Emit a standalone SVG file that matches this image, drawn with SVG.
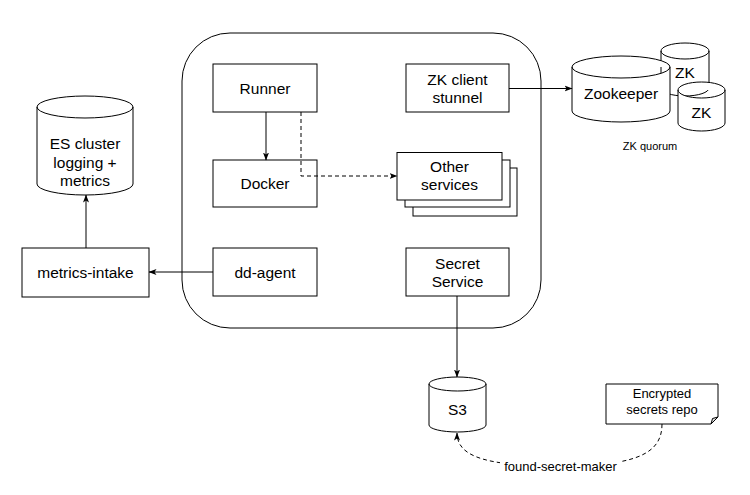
<svg xmlns="http://www.w3.org/2000/svg" width="750" height="495" viewBox="0 0 750 495">
<defs>
<style>
.s{fill:#fff;stroke:#000;stroke-width:1}
.t{font-family:"Liberation Sans",Arial,sans-serif;font-size:15.5px;fill:#000;text-anchor:middle}
.sm{font-size:13px}
.xs{font-size:11px}
.c{fill:none;stroke:#000;stroke-width:1}
.d{stroke-dasharray:4 3}
</style>
<marker id="a" viewBox="0 0 8 8" refX="7.5" refY="4" markerWidth="8" markerHeight="8" markerUnits="userSpaceOnUse" orient="auto">
<path d="M0,1 L8,4 L0,7 L2,4 Z" fill="#000"/>
</marker>
</defs>
<rect width="750" height="495" fill="#fff"/>
<g id="host"><rect class="s" x="182" y="33" width="359" height="295" rx="48" ry="48"/></g>
<g id="zk1"><path class="s" d="M661 51 a24 8 0 0 1 48 0 a24 8 0 0 1 -48 0 v37 a24 8 0 0 0 48 0 v-37"/><text class="t" x="685" y="78">ZK</text></g>
<g id="zookeeper"><path class="s" d="M572 67 a49 11 0 0 1 98 0 a49 11 0 0 1 -98 0 v44 a49 11 0 0 0 98 0 v-44"/><text class="t" x="621" y="98.5">Zookeeper</text></g>
<g id="zk2"><path class="s" d="M678 90 a23.5 8 0 0 1 47 0 a23.5 8 0 0 1 -47 0 v33 a23.5 8 0 0 0 47 0 v-33"/><text class="t" x="701.5" y="117.5">ZK</text></g>
<text class="t xs" x="650" y="150">ZK quorum</text>
<g id="runner"><rect class="s" x="213" y="64" width="104" height="48"/><text class="t" x="265" y="93.5">Runner</text></g>
<g id="docker"><rect class="s" x="213" y="160" width="104" height="47"/><text class="t" x="265" y="189">Docker</text></g>
<g id="ddagent"><rect class="s" x="213" y="248" width="104" height="48"/><text class="t" x="265" y="277.5">dd-agent</text></g>
<g id="zkclient"><rect class="s" x="406" y="64" width="103" height="48"/><text class="t" x="457.5" y="85">ZK client</text><text class="t" x="457.5" y="103">stunnel</text></g>
<g id="secret"><rect class="s" x="406" y="248" width="103" height="48"/><text class="t" x="457.5" y="268.5">Secret</text><text class="t" x="457.5" y="286.5">Service</text></g>
<g id="other"><rect class="s" x="413" y="168" width="104" height="48"/><rect class="s" x="405" y="160" width="105" height="47"/><rect class="s" x="397" y="152.5" width="105" height="47.5"/><text class="t" x="449.5" y="172">Other</text><text class="t" x="449.5" y="190">services</text></g>
<g id="es"><path class="s" d="M37 107 a48 11 0 0 1 96 0 a48 11 0 0 1 -96 0 v77 a48 11 0 0 0 96 0 v-77"/><text class="t" x="85" y="149">ES cluster</text><text class="t" x="85" y="167.5">logging +</text><text class="t" x="85" y="186">metrics</text></g>
<g id="intake"><rect class="s" x="22" y="248" width="127" height="49"/><text class="t" x="85.5" y="277.5">metrics-intake</text></g>
<g id="s3"><path class="s" d="M429 384 a28.5 7 0 0 1 57 0 a28.5 7 0 0 1 -57 0 v41 a28.5 7 0 0 0 57 0 v-41"/><text class="t" x="457.5" y="415">S3</text></g>
<g id="repo"><path class="s" d="M606 384 H718 V417 L711 424 H606 Z"/><path d="M711 424 L712.5 418.5 L718 417 Z" fill="#ddd" stroke="#000" stroke-width="1"/><text class="t sm" x="662" y="398">Encrypted</text><text class="t sm" x="662" y="414">secrets repo</text></g>
<g id="connectors">
<path class="c" d="M266 112 V160" marker-end="url(#a)"/>
<path class="c d" d="M301 112 V176 H397" marker-end="url(#a)"/>
<path class="c" d="M509 88.5 H572" marker-end="url(#a)"/>
<path class="c" d="M213 272 H149" marker-end="url(#a)"/>
<path class="c" d="M86 248 V195" marker-end="url(#a)"/>
<path class="c" d="M457 296 V377" marker-end="url(#a)"/>
<path class="c d" d="M662 424 C662 452 640 466 560 466 C490 466 457 458 457 433" marker-end="url(#a)"/>
<rect x="500" y="456" width="121" height="20" fill="#fff"/>
<text class="t sm" x="560.5" y="470.5">found-secret-maker</text>
</g>
</svg>
